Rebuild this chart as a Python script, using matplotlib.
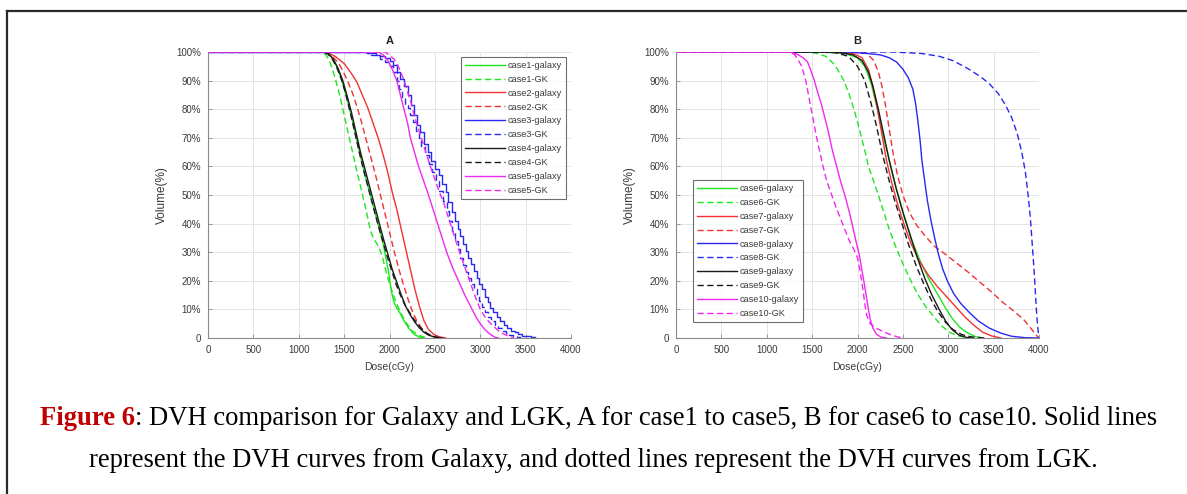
import numpy as np
import matplotlib

matplotlib.use("Agg")
import matplotlib.pyplot as plt
from matplotlib.lines import Line2D
from matplotlib.text import Annotation

W, H = 1187, 494

# ---- data: (dose cGy, volume %) ----
case1_galaxy = [(0, 100), (1280, 100), (1330, 99.5), (1380, 97.5), (1430, 94), (1480, 89.5),
                (1530, 84), (1580, 77.5), (1630, 70.5), (1680, 63.5), (1730, 57), (1780, 51),
                (1830, 45), (1880, 39), (1930, 33), (1960, 28), (1990, 23), (2010, 18.5),
                (2030, 15), (2050, 12.5), (2080, 10.5), (2120, 8.5), (2160, 6), (2210, 3.5),
                (2270, 1.3), (2330, 0.3), (2380, 0)]
case1_gk = [(0, 100), (1250, 100), (1300, 99), (1350, 96), (1400, 91), (1450, 85), (1500, 78),
            (1550, 71), (1600, 64), (1650, 57), (1700, 50.5), (1750, 43.5), (1790, 37.5),
            (1830, 34.5), (1880, 32), (1920, 28.5), (1960, 23.5), (2010, 18), (2060, 13.5),
            (2120, 9), (2180, 5.5), (2250, 2.5), (2330, 0.8), (2420, 0)]
case2_galaxy = [(0, 100), (1300, 100), (1400, 98.5), (1500, 96), (1580, 92.5), (1640, 89.5),
                (1700, 85), (1760, 80.5), (1820, 75), (1880, 69.5), (1930, 64), (1980, 58),
                (2030, 51), (2080, 45), (2130, 38), (2180, 31), (2230, 24), (2280, 17),
                (2330, 11), (2380, 6), (2430, 3), (2490, 1.2), (2550, 0.4), (2620, 0)]
case2_gk = [(0, 100), (1300, 100), (1350, 99), (1400, 97.5), (1450, 95.5), (1500, 92.5),
            (1550, 89), (1600, 85), (1650, 80), (1700, 74.5), (1750, 68.5), (1800, 62.5),
            (1850, 56.5), (1900, 50), (1950, 43.5), (2000, 37), (2050, 30.5), (2100, 24.5),
            (2150, 19), (2200, 14), (2250, 9.5), (2300, 6), (2350, 3.5), (2400, 1.8),
            (2460, 0.7), (2540, 0)]
case3_galaxy = [(0, 100), (1680, 100), (1750, 99.8), (1800, 99.5), (1850, 99), (1900, 98.5),
                (1950, 98), (2000, 97), (2040, 95.5), (2080, 93), (2120, 90.5), (2160, 88),
                (2200, 85), (2240, 81.5), (2270, 78), (2300, 74.5), (2340, 72), (2380, 68),
                (2420, 65), (2460, 62), (2500, 59), (2540, 57), (2580, 54), (2620, 51),
                (2650, 47.5), (2690, 44), (2720, 41), (2750, 38), (2780, 35.5), (2810, 33),
                (2840, 30.5), (2870, 28), (2900, 26), (2930, 23.5), (2960, 21), (2990, 19),
                (3020, 17), (3050, 14.5), (3080, 12.5), (3110, 10.5), (3140, 9), (3180, 7.5),
                (3220, 6), (3260, 4.5), (3300, 3.5), (3340, 2.5), (3380, 2), (3420, 1.3),
                (3460, 0.8), (3500, 0.6), (3560, 0.5), (3600, 0.5)]
case3_gk = [(0, 100), (1680, 100), (1750, 99.5), (1800, 99), (1850, 98.5), (1900, 97.5),
            (1950, 96.5), (2000, 95), (2040, 93), (2080, 90), (2110, 87), (2140, 84),
            (2170, 81.5), (2200, 80.5), (2230, 78), (2260, 75.5), (2290, 72.5), (2320, 70),
            (2350, 67), (2390, 64), (2430, 61), (2470, 58), (2510, 55), (2550, 51.5),
            (2590, 48), (2630, 44.5), (2660, 41), (2690, 37.5), (2720, 34), (2750, 31),
            (2780, 28), (2810, 25.5), (2840, 23), (2870, 21), (2900, 19), (2930, 17),
            (2960, 15), (2990, 13), (3020, 11), (3050, 9), (3080, 7.5), (3120, 6),
            (3160, 4.5), (3200, 3.5), (3240, 2.5), (3280, 1.8), (3320, 1.2), (3360, 0.8),
            (3400, 0.4), (3440, 0)]
case4_galaxy = [(0, 100), (1280, 100), (1330, 99.3), (1380, 97.5), (1430, 94.5), (1480, 90.5),
                (1530, 85), (1580, 79), (1630, 72), (1680, 65), (1730, 59), (1780, 53),
                (1830, 47), (1880, 41), (1930, 35), (1980, 29.5), (2030, 24), (2080, 19.5),
                (2130, 15), (2180, 11), (2230, 8), (2280, 5.5), (2330, 3.5), (2380, 2),
                (2430, 1), (2500, 0.3), (2580, 0)]
case4_gk = [(0, 100), (1270, 100), (1320, 99.3), (1370, 97.5), (1420, 94.5), (1470, 90.5),
            (1520, 85), (1570, 78.5), (1620, 71.5), (1670, 64.5), (1720, 58), (1770, 52),
            (1820, 46), (1870, 40), (1920, 34.5), (1970, 29), (2020, 24), (2070, 19),
            (2120, 15), (2170, 11.5), (2220, 9), (2270, 6.5), (2320, 4.5), (2370, 2.8),
            (2420, 1.5), (2480, 0.6), (2560, 0)]
case5_galaxy = [(0, 100), (1880, 100), (1930, 99), (1980, 97), (2030, 94), (2080, 90),
                (2120, 85), (2160, 80), (2200, 75), (2230, 70), (2275, 65), (2320, 60),
                (2375, 55), (2430, 50), (2480, 45), (2530, 40), (2580, 35), (2630, 30),
                (2690, 25), (2760, 20), (2830, 15), (2910, 10), (2960, 7), (3000, 5),
                (3050, 3), (3100, 1.5), (3160, 0.3), (3200, 0)]
case5_gk = [(0, 100), (1950, 100), (2000, 99), (2050, 97.5), (2090, 95.5), (2130, 92.5),
            (2160, 90), (2200, 86), (2240, 82), (2270, 78), (2310, 74), (2350, 70),
            (2400, 65), (2450, 60), (2500, 55.5), (2550, 51), (2600, 47), (2650, 42),
            (2700, 37), (2750, 32), (2800, 27.5), (2850, 23), (2900, 18.5), (2950, 14),
            (3000, 10), (3050, 7.5), (3100, 5.5), (3150, 4), (3220, 2), (3300, 0.8),
            (3370, 0)]

case6_galaxy = [(0, 100), (1600, 100), (1850, 99.6), (2000, 98), (2080, 95), (2150, 89),
                (2220, 80), (2290, 70), (2360, 61), (2430, 52), (2510, 43), (2600, 34),
                (2690, 27), (2780, 21), (2870, 16), (2960, 11), (3040, 7), (3120, 4),
                (3200, 2), (3300, 0.5), (3380, 0)]
case6_gk = [(0, 100), (1450, 100), (1550, 99.5), (1650, 98.5), (1750, 95.5), (1850, 90),
            (1910, 85), (1960, 80), (2005, 75), (2045, 70), (2085, 65), (2120, 60),
            (2175, 55), (2230, 50), (2290, 44), (2350, 38), (2420, 32), (2500, 26),
            (2580, 20.5), (2660, 15.5), (2750, 11), (2840, 7.5), (2920, 4.5), (3000, 2.2),
            (3100, 0.8), (3200, 0.2), (3300, 0)]
case7_galaxy = [(0, 100), (1700, 100), (1950, 99.5), (2050, 98), (2120, 94), (2170, 88),
                (2220, 80), (2270, 71), (2320, 62), (2380, 54), (2440, 47), (2510, 40),
                (2590, 33), (2680, 27), (2780, 22), (2880, 18), (2980, 14.5), (3080, 11),
                (3180, 7.5), (3280, 4.5), (3380, 2), (3480, 0.7), (3580, 0)]
case7_gk = [(0, 100), (1900, 100), (2100, 99.5), (2180, 97), (2230, 93), (2270, 88),
            (2310, 81), (2350, 73), (2390, 65), (2440, 57), (2500, 50), (2570, 44),
            (2650, 39.5), (2750, 35.5), (2850, 32), (2980, 29), (3100, 26), (3220, 23),
            (3350, 19.5), (3480, 16), (3600, 12.5), (3720, 9.5), (3830, 6.5), (3920, 3),
            (3970, 1), (4000, 0)]
case8_galaxy = [(0, 100), (1900, 100), (2100, 99.5), (2250, 99), (2350, 98), (2430, 96.5),
                (2500, 94), (2560, 91), (2610, 87), (2640, 82), (2665, 76), (2690, 69),
                (2710, 62), (2740, 55), (2770, 48), (2810, 41), (2850, 35), (2890, 29.5),
                (2940, 24), (2990, 20), (3060, 15.5), (3140, 12), (3230, 9), (3330, 6),
                (3450, 3.5), (3580, 1.7), (3700, 0.6), (3850, 0.1), (3990, 0)]
case8_gk = [(0, 100), (2400, 100), (2700, 99.5), (2900, 98.5), (3050, 97), (3200, 94.5),
            (3350, 91.5), (3450, 89), (3550, 85.5), (3630, 81.5), (3700, 77), (3760, 71.5),
            (3810, 65), (3850, 58), (3880, 50), (3905, 42), (3925, 33), (3945, 24),
            (3960, 16), (3975, 8), (3990, 2.5), (4000, 0)]
case9_galaxy = [(0, 100), (1500, 100), (1800, 99.8), (1950, 99), (2050, 97), (2120, 93),
                (2170, 88), (2230, 80), (2290, 71), (2350, 62), (2420, 53), (2500, 44),
                (2580, 36), (2660, 28), (2740, 21), (2820, 15), (2900, 10), (2970, 6),
                (3040, 3), (3120, 1), (3200, 0.2), (3260, 0)]
case9_gk = [(0, 100), (1500, 100), (1750, 99.8), (1900, 98.5), (2000, 95), (2080, 90),
            (2150, 82), (2210, 74), (2270, 65), (2340, 56), (2410, 48), (2490, 40),
            (2570, 32), (2650, 25), (2730, 19), (2810, 13.5), (2890, 9), (2970, 5.5),
            (3050, 3), (3150, 1.2), (3250, 0.4), (3400, 0)]
case10_galaxy = [(0, 100), (1250, 100), (1330, 99.3), (1400, 98), (1450, 96.5), (1480, 94),
                 (1520, 90.5), (1560, 86), (1600, 82), (1640, 77), (1680, 72), (1720, 66),
                 (1770, 60), (1820, 54), (1860, 50), (1910, 44), (1950, 38.5), (1990, 33),
                 (2020, 29), (2050, 23.5), (2080, 18), (2110, 12), (2140, 6.5), (2170, 3.5),
                 (2210, 1.3), (2260, 0.3), (2320, 0)]
case10_gk = [(0, 100), (1250, 100), (1310, 99), (1350, 97), (1385, 95), (1430, 90),
             (1460, 85), (1490, 80), (1520, 75), (1550, 70), (1585, 65), (1620, 60),
             (1660, 55), (1710, 50.5), (1760, 46), (1810, 42), (1860, 38), (1910, 34),
             (1960, 31), (2000, 28), (2030, 23), (2060, 17), (2080, 12), (2100, 8),
             (2140, 5), (2200, 3.5), (2280, 2.3), (2360, 1.2), (2440, 0.4), (2510, 0)]

panel_a_cases = ["case1", "case2", "case3", "case4", "case5"]
panel_b_cases = ["case6", "case7", "case8", "case9", "case10"]
panel_a_curves = [(case1_galaxy, case1_gk), (case2_galaxy, case2_gk), (case3_galaxy, case3_gk),
                  (case4_galaxy, case4_gk), (case5_galaxy, case5_gk)]
panel_b_curves = [(case6_galaxy, case6_gk), (case7_galaxy, case7_gk), (case8_galaxy, case8_gk),
                  (case9_galaxy, case9_gk), (case10_galaxy, case10_gk)]
stepped = {"case3"}  # case3 DVH is visibly jagged

x_ticks = list(range(0, 4001, 500))
y_ticks = list(range(0, 101, 10))
y_tick_labels = ["0"] + [f"{v}%" for v in y_ticks[1:]]

colors = ["#1ee61e", "#f03232", "#2828f0", "#1a1a1a", "#f028f0"]
axis_grey = "#3a3a3a"

plt.rcParams["font.family"] = ["Liberation Sans", "DejaVu Sans"]

fig = plt.figure(figsize=(W / 100, H / 100), dpi=100)


def draw_panel(rect, title, cases, curves, legend_loc, legend_anchor):
    ax = fig.add_axes(rect)
    for color, name, (gal, gk) in zip(colors, cases, curves):
        ds = "steps-post" if name in stepped else "default"
        d, v = np.array(gal, dtype=float).T
        ax.plot(d, v, color=color, lw=1.0, drawstyle=ds, label=f"{name}-galaxy")
        d, v = np.array(gk, dtype=float).T
        ax.plot(d, v, color=color, lw=1.0, ls=(0, (4.5, 2.5)), drawstyle=ds,
                label=f"{name}-GK")
    ax.set_xlim(0, 4000)
    ax.set_ylim(0, 100)
    ax.set_xticks(x_ticks)
    ax.set_yticks(y_ticks, y_tick_labels)
    ax.grid(True, color="#e4e4e4", lw=0.7)
    ax.set_axisbelow(True)
    for side in ("top", "right"):
        ax.spines[side].set_visible(False)
    for side in ("left", "bottom"):
        ax.spines[side].set_color("#8a8a8a")
        ax.spines[side].set_linewidth(0.8)
    ax.tick_params(direction="in", length=3, width=0.6, color="#8a8a8a",
                   labelsize=7, labelcolor=axis_grey, pad=5)
    ax.set_title(title, fontsize=8, fontweight="bold", color="#222222", pad=6)
    ax.set_xlabel("Dose(cGy)", fontsize=7.5, color=axis_grey, labelpad=5)
    ax.set_ylabel("Volume(%)", fontsize=8.5, color=axis_grey, labelpad=6)
    leg = ax.legend(loc=legend_loc, bbox_to_anchor=legend_anchor, fontsize=6.6,
                    frameon=True, fancybox=False, handlelength=4.3, handletextpad=0.3,
                    labelspacing=0.53, borderpad=0.45, borderaxespad=0)
    leg.get_frame().set_edgecolor("#4a4a4a")
    leg.get_frame().set_linewidth(0.8)
    for t in leg.get_texts():
        t.set_color(axis_grey)
    return ax


draw_panel([208 / W, 1 - 338 / H, 363 / W, 286 / H], "A", panel_a_cases, panel_a_curves,
           "upper right", (0.986, 0.983))
draw_panel([676 / W, 1 - 338 / H, 363 / W, 286 / H], "B", panel_b_cases, panel_b_curves,
           "lower left", (0.047, 0.056))

# page frame around the figure block
fig.add_artist(Line2D([7 / W, 1], [1 - 11 / H] * 2, color="#2a2a2a", lw=1.6))
fig.add_artist(Line2D([7 / W] * 2, [0, 1 - 11 / H], color="#2a2a2a", lw=1.6))

# caption
serif = ["Liberation Serif", "DejaVu Serif"]
cap_size = 19.2
cap1 = fig.text(40 / W, 1 - 418 / H, "Figure 6", fontsize=cap_size, fontweight="bold",
                color="#c00000", family=serif, va="center", ha="left")
fig.add_artist(Annotation(
    ": DVH comparison for Galaxy and LGK, A for case1 to case5, B for case6 to case10. "
    "Solid lines", xy=(1, 0), xycoords=cap1, ha="left", va="bottom",
    fontsize=cap_size, family=serif, color="black"))
fig.text(0.5, 1 - 460 / H, "represent the DVH curves from Galaxy, and dotted lines represent "
         "the DVH curves from LGK.", fontsize=cap_size, family=serif, color="black",
         ha="center", va="center")

fig.savefig("out.png", dpi=100)
